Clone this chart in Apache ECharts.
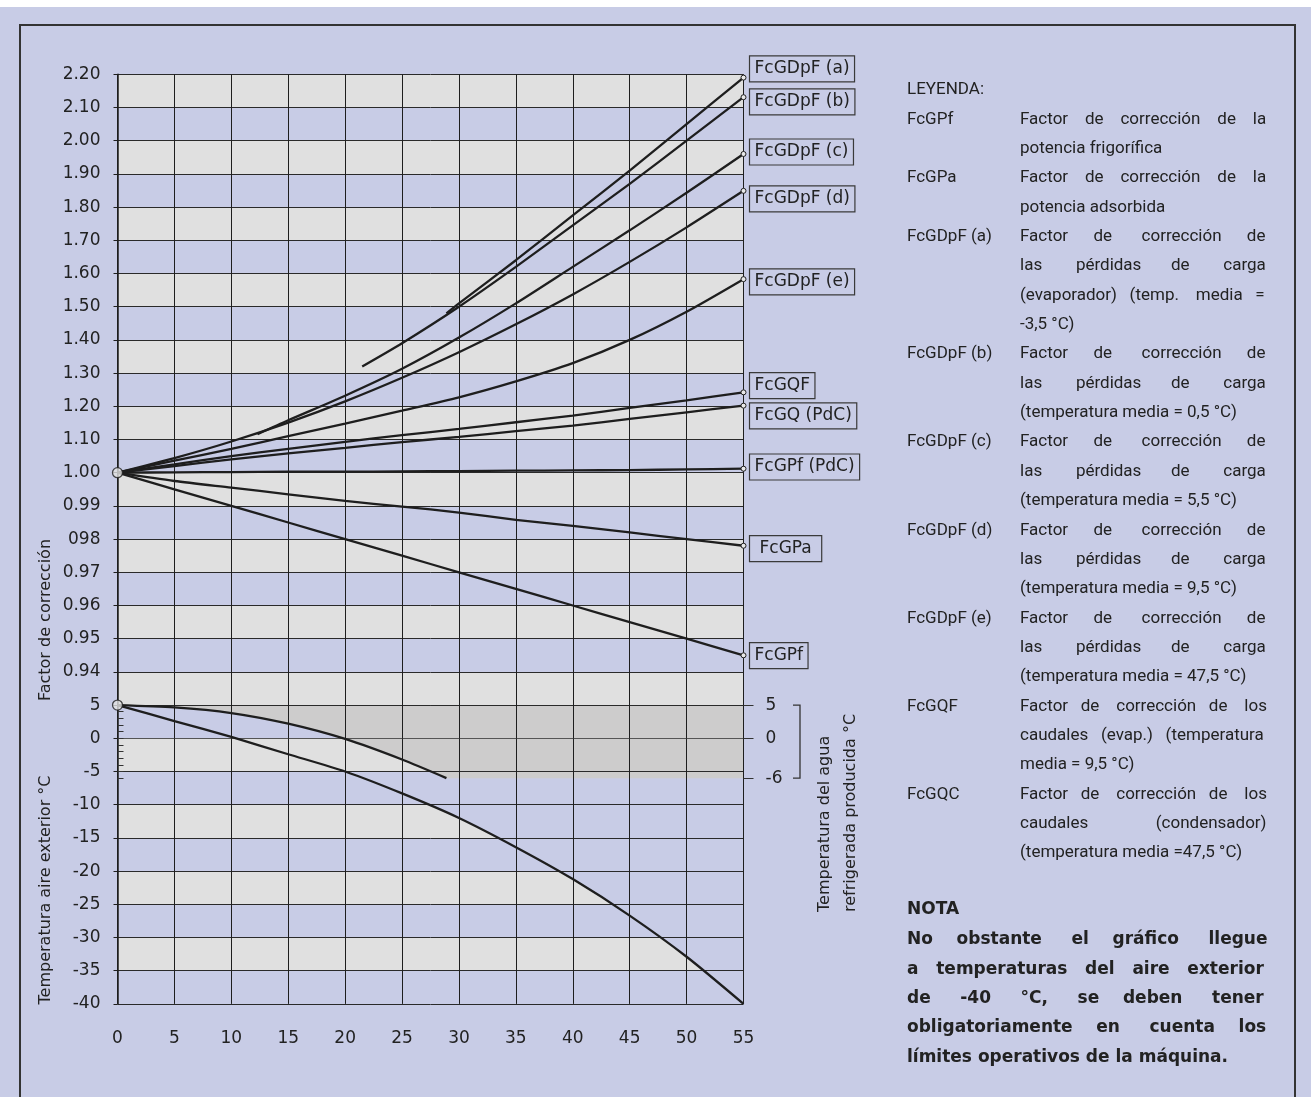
<!DOCTYPE html>
<html>
<head>
<meta charset="utf-8">
<title>Factores de corrección con glicol</title>
<script src="https://cdn.jsdelivr.net/npm/echarts@6/dist/echarts.min.js"></script>
<style>
  html, body { margin: 0; padding: 0; background: #c8cce6; }
  #chart { width: 1311px; height: 1097px; }
</style>
</head>
<body>
<div id="chart"></div>
<script>
// ---------- data ----------
// glycol percentage (horizontal axis)
const glycolPct = [0, 5, 10, 15, 20, 25, 30, 35, 40, 45, 50, 55];

// upper factor panel ticks (1.00 - 2.20)
const factorHighValues = [1.0, 1.1, 1.2, 1.3, 1.4, 1.5, 1.6, 1.7, 1.8, 1.9, 2.0, 2.1, 2.2];
const factorHighLabels = ['1.00', '1.10', '1.20', '1.30', '1.40', '1.50', '1.60', '1.70', '1.80', '1.90', '2.00', '2.10', '2.20'];
// lower factor panel ticks (0.94 - 0.99)
const factorLowValues = [0.93, 0.94, 0.95, 0.96, 0.97, 0.98, 0.99, 1.0];
const factorLowLabels = ['', '0.94', '0.95', '0.96', '0.97', '098', '0.99', ''];
// outdoor air temperature ticks
const airTempValues = [-40, -35, -30, -25, -20, -15, -10, -5, 0, 5];
const airTempLabels = ['-40', '-35', '-30', '-25', '-20', '-15', '-10', '-5', '0', '5'];
// produced chilled water temperature ticks
const waterTempValues = [5, 0, -6];
const waterTempLabels = ['5', '0', '-6'];

// pressure drop factors
const gdpfA_x = [28.9, 30, 35, 40, 45, 50, 55];
const gdpfA   = [1.48, 1.51, 1.64, 1.775, 1.91, 2.05, 2.19];
const gdpfB_x = [21.5, 25, 30, 35, 40, 45, 50, 55];
const gdpfB   = [1.32, 1.39, 1.5, 1.62, 1.745, 1.87, 2.0, 2.131];
const gdpfC_x = [12.3, 15, 20, 25, 30, 35, 40, 45, 50, 55];
const gdpfC   = [1.116, 1.158, 1.232, 1.313, 1.407, 1.51, 1.62, 1.73, 1.843, 1.96];
const gdpfD   = [1.0, 1.044, 1.094, 1.151, 1.215, 1.286, 1.363, 1.447, 1.537, 1.635, 1.739, 1.849];
const gdpfE   = [1.0, 1.036, 1.072, 1.11, 1.148, 1.187, 1.227, 1.275, 1.33, 1.4, 1.485, 1.583];
// flow factors
const gqf     = [1.0, 1.025, 1.05, 1.072, 1.093, 1.113, 1.132, 1.152, 1.172, 1.195, 1.218, 1.242];
const gqPdc   = [1.0, 1.02, 1.04, 1.058, 1.075, 1.092, 1.108, 1.125, 1.142, 1.162, 1.182, 1.202];
// capacity factors
const gpfPdc  = [1.0, 1.001, 1.002, 1.003, 1.003, 1.004, 1.005, 1.006, 1.007, 1.008, 1.01, 1.012];
const gpa     = [1.0, 0.9975, 0.9955, 0.9935, 0.9915, 0.9898, 0.988, 0.9858, 0.984, 0.982, 0.98, 0.978];
const gpf     = [1.0, 0.995, 0.99, 0.985, 0.98, 0.975, 0.97, 0.965, 0.96, 0.955, 0.95, 0.945];
// freezing point of the mixture vs outdoor air
const freezeTemp = [5, 2.6, 0.2, -2.4, -5, -8.3, -12, -16.4, -21.2, -26.7, -32.9, -40];
// lowest produced water temperature
const waterOut_x = [0, 5, 10, 15, 20, 25, 28.9];
const waterOut   = [5, 4.65, 3.8, 2.2, -0.1, -3.2, -6];

// legend text
const legendCodes = ['FcGPf', 'FcGPa', 'FcGDpF (a)', 'FcGDpF (b)', 'FcGDpF (c)', 'FcGDpF (d)', 'FcGDpF (e)', 'FcGQF', 'FcGQC'];
const legendDescriptions = [
  ['Factor de corrección de la', 'potencia frigorífica'],
  ['Factor de corrección de la', 'potencia adsorbida'],
  ['Factor de corrección de', 'las pérdidas de carga', '(evaporador) (temp. media =', '-3,5 °C)'],
  ['Factor de corrección de', 'las pérdidas de carga', '(temperatura media = 0,5 °C)'],
  ['Factor de corrección de', 'las pérdidas de carga', '(temperatura media = 5,5 °C)'],
  ['Factor de corrección de', 'las pérdidas de carga', '(temperatura media = 9,5 °C)'],
  ['Factor de corrección de', 'las pérdidas de carga', '(temperatura media = 47,5 °C)'],
  ['Factor de corrección de los', 'caudales (evap.) (temperatura', 'media = 9,5 °C)'],
  ['Factor de corrección de los', 'caudales (condensador)', '(temperatura media =47,5 °C)']
];
const noteLines = [
  'No obstante el gráfico llegue',
  'a temperaturas del aire exterior',
  'de -40 °C, se deben tener',
  'obligatoriamente en cuenta los',
  'límites operativos de la máquina.'
];

// ---------- styling ----------
const FONT = 'DejaVu Sans';
const LEGEND_FONT = 'Roboto';
const INK = '#1e1e1e';
const LAV = '#c8cce6';
const GRAY = '#e0e0e0';
const DARK = '#cdcccc';

const ROW = 33.2;          // height of one band
const TOP = 74.3;
const LEFT = 117.5;
const WIDTH = 626;
const X_MAX = glycolPct[glycolPct.length - 1];

const chart = echarts.init(document.getElementById('chart'), null, { renderer: 'canvas' });

function pickLabel(values, labels) {
  return function (v) {
    const i = values.findIndex(t => Math.abs(t - v) < 1e-6);
    return i < 0 ? '' : labels[i];
  };
}

function xAxisFor(gi, bottom) {
  return {
    type: 'value', gridIndex: gi, min: 0, max: X_MAX, interval: 5, z: 3,
    axisLine: { show: bottom, lineStyle: { color: '#555', width: 1 } },
    axisTick: { show: bottom, length: 4, lineStyle: { color: INK } },
    axisLabel: { show: bottom, margin: 26, fontFamily: FONT, fontSize: 17, color: '#222' },
    splitLine: { show: true, lineStyle: { color: INK, width: 1 } }
  };
}

function yAxisFor(gi, min, max, interval, values, labels) {
  return {
    type: 'value', gridIndex: gi, min, max, interval, z: 3,
    axisLine: { show: true, lineStyle: { color: INK, width: 1.5 } },
    axisTick: { show: true, length: 4, lineStyle: { color: INK } },
    axisLabel: {
      margin: 17, fontFamily: FONT, fontSize: 17, color: '#222',
      formatter: pickLabel(values, labels)
    },
    splitLine: { show: true, lineStyle: { color: '#2a2a2a', width: 1 } }
  };
}

// alternating background bands built from the tick values
function bands(values, grayParity) {
  const out = [];
  for (let i = 0; i < values.length - 1; i++) {
    out.push([values[i], values[i + 1], (i % 2 === grayParity) ? 1 : 0]);
  }
  return out;
}
function bandSeries(gi, data) {
  return {
    type: 'custom', xAxisIndex: gi, yAxisIndex: gi, z: 1, silent: true, clip: true,
    data,
    renderItem: function (params, api) {
      const p0 = api.coord([0, api.value(1)]);
      const p1 = api.coord([X_MAX, api.value(0)]);
      return {
        type: 'rect',
        shape: { x: p0[0], y: p0[1], width: p1[0] - p0[0], height: p1[1] - p0[1] },
        style: { fill: api.value(2) ? GRAY : LAV }
      };
    }
  };
}
function polygonSeries(gi, points, fill) {
  return {
    type: 'custom', xAxisIndex: gi, yAxisIndex: gi, z: 2, silent: true, clip: true,
    data: [points[0]],
    renderItem: function (params, api) {
      return {
        type: 'polygon',
        shape: { points: points.map(p => api.coord(p)) },
        style: { fill }
      };
    }
  };
}

function lineSeries(name, xs, ys, gi, labelDy, labelPad) {
  const n = xs.length;
  const pad = labelPad || 5;
  return {
    type: 'line', name, xAxisIndex: gi, yAxisIndex: gi, z: 5, silent: true,
    data: xs.map((x, i) => [x, ys[i]]),
    smooth: 0.25,
    symbol: 'circle', showSymbol: true, showAllSymbol: true,
    symbolSize: (v, p) => (p.dataIndex === n - 1 ? 5 : 0),
    itemStyle: { color: '#e8e8e8', borderColor: INK, borderWidth: 1 },
    lineStyle: { color: INK, width: 2.3 },
    clip: false,
    endLabel: {
      show: true, formatter: () => name, distance: 6, offset: [0, labelDy],
      fontFamily: FONT, fontSize: 17, lineHeight: 20, color: '#222',
      borderColor: '#3a3a3a', borderWidth: 1.2, padding: [3, pad, 3, pad]
    }
  };
}
function plainLine(xs, ys, gi) {
  return {
    type: 'line', xAxisIndex: gi, yAxisIndex: gi, z: 5, silent: true,
    data: xs.map((x, i) => [x, ys[i]]),
    smooth: 0.25, symbol: 'none', clip: false,
    lineStyle: { color: INK, width: 2.3 }
  };
}

// region above the freezing curve and below -5 °C stays plain
const freezeBelow = glycolPct.map((x, i) => [x, freezeTemp[i]]).filter(p => p[1] <= -5);
const clipPoly = freezeBelow.concat([[X_MAX, -5]]);
// operating region of the produced water temperature (between the curve and 5 / -6 °C)
const waterPoly = waterOut_x.map((x, i) => [x, waterOut[i]])
  .concat([[X_MAX, waterTempValues[2]], [X_MAX, waterTempValues[0]]]);

const option = {
  backgroundColor: LAV,
  animation: false,
  grid: [
    { left: LEFT, width: WIDTH, top: TOP, height: ROW * 12, outerBoundsMode: 'none' },
    { left: LEFT, width: WIDTH, top: TOP + ROW * 12, height: ROW * 7, outerBoundsMode: 'none' },
    { left: LEFT, width: WIDTH, top: TOP + ROW * 19, height: ROW * 9, outerBoundsMode: 'none' },
    { left: LEFT, width: WIDTH, top: TOP + ROW * 19, height: ROW / 5 * 11, outerBoundsMode: 'none' }
  ],
  xAxis: [xAxisFor(0, false), xAxisFor(1, false), xAxisFor(2, true),
    { type: 'value', gridIndex: 3, min: 0, max: X_MAX, show: false }],
  yAxis: [
    yAxisFor(0, 1.0, 2.2, 0.1, factorHighValues, factorHighLabels),
    yAxisFor(1, 0.93, 1.0, 0.01, factorLowValues, factorLowLabels),
    yAxisFor(2, -40, 5, 5, airTempValues, airTempLabels),
    {
      type: 'value', gridIndex: 3, position: 'right', min: -6, max: 5, interval: 1, z: 3,
      axisLine: { show: false }, splitLine: { show: false },
      axisTick: { show: true, length: 6, lineStyle: { color: '#333' } },
      axisLabel: { show: false }
    },
    {
      type: 'value', gridIndex: 3, position: 'right', min: -6, max: 5, z: 3,
      axisLine: { show: false }, splitLine: { show: false },
      axisTick: { show: true, length: 10, customValues: waterTempValues, lineStyle: { color: '#333' } },
      axisLabel: {
        show: true, customValues: waterTempValues, margin: 22,
        fontFamily: FONT, fontSize: 17, color: '#222',
        formatter: pickLabel(waterTempValues, waterTempLabels)
      }
    }
  ],
  series: [
    bandSeries(0, bands(factorHighValues, 1)),
    bandSeries(1, bands(factorLowValues, 0)),
    bandSeries(2, bands(airTempValues, 1)),
    polygonSeries(2, clipPoly, LAV),
    polygonSeries(2, waterPoly, DARK),

    lineSeries('FcGDpF (a)', gdpfA_x, gdpfA, 0, -8.7),
    lineSeries('FcGDpF (b)', gdpfB_x, gdpfB, 0, 4.7),
    lineSeries('FcGDpF (c)', gdpfC_x, gdpfC, 0, -2),
    lineSeries('FcGDpF (d)', glycolPct, gdpfD, 0, 8),
    lineSeries('FcGDpF (e)', glycolPct, gdpfE, 0, 2.7),
    lineSeries('FcGQF', glycolPct, gqf, 0, -6.8),
    lineSeries('FcGQ (PdC)', glycolPct, gqPdc, 0, 10.3),
    lineSeries('FcGPf (PdC)', glycolPct, gpfPdc, 0, -1.7),
    lineSeries('FcGPa', glycolPct, gpa, 1, 2.8, 10),
    lineSeries('FcGPf', glycolPct, gpf, 1, 0.4),

    plainLine(glycolPct, freezeTemp, 2),
    plainLine(waterOut_x, waterOut, 2),

    // common origin markers
    {
      type: 'scatter', xAxisIndex: 0, yAxisIndex: 0, z: 6, silent: true, clip: false,
      data: [[glycolPct[0], gdpfD[0]]], symbolSize: 10,
      itemStyle: { color: '#e2e2e2', borderColor: INK, borderWidth: 1.3 }
    },
    {
      type: 'scatter', xAxisIndex: 2, yAxisIndex: 2, z: 6, silent: true, clip: false,
      data: [[glycolPct[0], freezeTemp[0]]], symbolSize: 10,
      itemStyle: { color: '#e2e2e2', borderColor: INK, borderWidth: 1.3 }
    }
  ]
};
chart.setOption(option);

// ---------- annotations ----------
const measureCtx = document.createElement('canvas').getContext('2d');
// one text per line; justified lines get their word gaps widened to fill the column
function textLine(str, x, y, font, justifyWidth) {
  let text = str;
  if (justifyWidth) {
    measureCtx.font = font;
    const words = str.split(' ');
    const gaps = words.length - 1;
    const spaceW = measureCtx.measureText(' ').width;
    const wordsW = words.reduce((s, w) => s + measureCtx.measureText(w).width, 0);
    const perGap = (justifyWidth - wordsW) / gaps;
    let acc = 0, built = words[0];
    for (let i = 1; i < words.length; i++) {
      const target = perGap * i;
      const n = Math.max(1, Math.round((target - acc) / spaceW));
      acc += n * spaceW;
      built += ' '.repeat(n) + words[i];
    }
    text = built;
  }
  return {
    type: 'text', x, y, silent: true,
    style: { text, font, fill: '#222', verticalAlign: 'middle' }
  };
}

const graphics = [
  { type: 'rect', silent: true, shape: { x: 0, y: 0, width: 1311, height: 7 }, style: { fill: '#ffffff' } },
  { type: 'rect', silent: true, shape: { x: 20, y: 25, width: 1275, height: 1100 },
    style: { fill: 'none', stroke: '#333', lineWidth: 2 } },
  { type: 'text', silent: true, x: 46, y: 620, rotation: Math.PI / 2,
    style: { text: 'Factor de corrección', font: '16px ' + FONT, fill: '#222', align: 'center', verticalAlign: 'middle' } },
  { type: 'text', silent: true, x: 46, y: 890, rotation: Math.PI / 2,
    style: { text: 'Temperatura aire exterior °C', font: '16px ' + FONT, fill: '#222', align: 'center', verticalAlign: 'middle' } },
  { type: 'text', silent: true, x: 838, y: 912, rotation: Math.PI / 2,
    style: { text: 'Temperatura del agua\nrefrigerada producida °C', font: '16px ' + FONT, lineHeight: 26,
      fill: '#222', align: 'left', verticalAlign: 'middle' } }
];

// bracket beside the water temperature scale
const yTop = chart.convertToPixel({ yAxisIndex: 4 }, waterTempValues[0]);
const yBot = chart.convertToPixel({ yAxisIndex: 4 }, waterTempValues[2]);
graphics.push({
  type: 'polyline', silent: true,
  shape: { points: [[793, yTop], [800, yTop], [800, yBot], [793, yBot]] },
  style: { stroke: '#333', lineWidth: 1.3, fill: 'none' }
});

// legend block
const LEG_X = 907, DESC_X = 1020, DESC_W = 245, LINE_H = 29.35;
const legFont = '17px ' + LEGEND_FONT;
let ly = 90;
graphics.push(textLine('LEYENDA:', LEG_X, ly, legFont));
legendCodes.forEach((code, k) => {
  const lines = legendDescriptions[k];
  ly += LINE_H;
  graphics.push(textLine(code, LEG_X, ly, legFont));
  lines.forEach((ln, j) => {
    if (j > 0) ly += LINE_H;
    const last = j === lines.length - 1;
    graphics.push(textLine(ln, DESC_X, ly, legFont, last ? 0 : DESC_W));
  });
});

// note
const noteFont = 'bold 17px ' + FONT;
graphics.push(textLine('NOTA', LEG_X, 910, noteFont));
noteLines.forEach((ln, j) => {
  const last = j === noteLines.length - 1;
  graphics.push(textLine(ln, LEG_X, 940 + j * 29.3, noteFont, last ? 0 : 1265 - LEG_X));
});

chart.setOption({ graphic: graphics });
</script>
</body>
</html>
